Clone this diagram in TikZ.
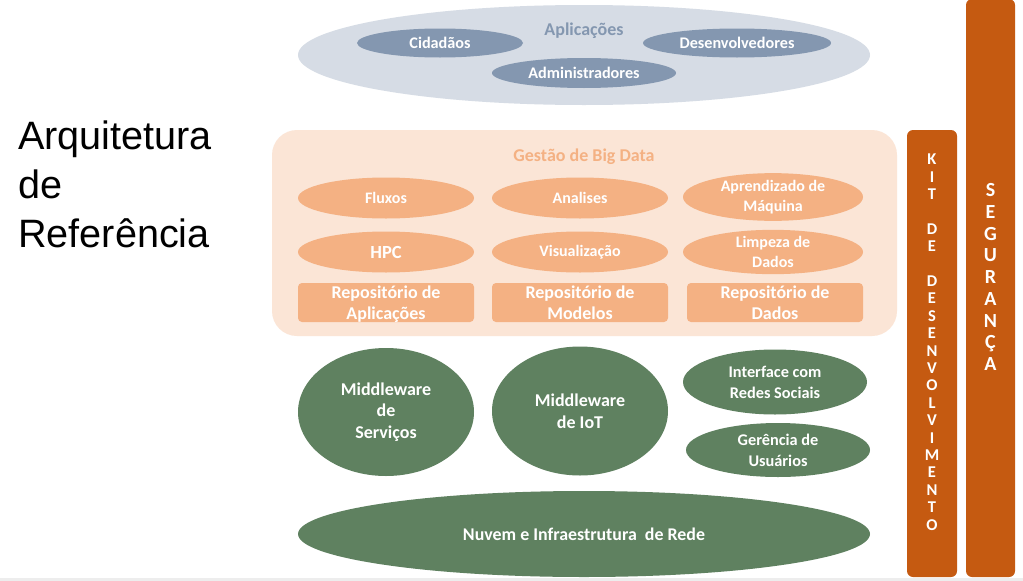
\documentclass[tikz,border=0pt]{standalone}
\usepackage{fontspec}
\setmainfont{Carlito}
\newfontfamily\arialf{Liberation Sans}
\usetikzlibrary{shapes.geometric}
\definecolor{appbg}{HTML}{D6DCE5}
\definecolor{appfg}{HTML}{8497B0}
\definecolor{bdbg}{HTML}{FBE5D6}
\definecolor{bdfg}{HTML}{F4B183}
\definecolor{grn}{HTML}{5F8160}
\definecolor{org}{HTML}{C55A11}
\newcommand\fsz[2]{\fontsize{#1}{#2}\selectfont}
\begin{document}
\begin{tikzpicture}[x=1pt,y=-1pt,
  ell/.style={ellipse, inner sep=0pt, draw=none, text=white, align=center},
  appell/.style={ell, fill=appfg, font=\bfseries\fsz{16.2}{18}},
  bdell/.style={ell, fill=bdfg, font=\bfseries\fsz{16}{20}},
  bdrect/.style={rectangle, rounded corners=4pt, inner sep=0pt, fill=bdfg, text=white, align=center,
     minimum width=176pt, minimum height=39pt, font=\bfseries\fsz{18}{21}},
  grell/.style={ell, fill=grn, font=\bfseries\fsz{18}{21.5}},
  grsmall/.style={ell, fill=grn, font=\bfseries\fsz{16.3}{21}},
  bar/.style={rectangle, rounded corners=6pt, inner sep=0pt, fill=org, draw=none},
  bartxt/.style={inner sep=0pt, text=white, align=center},
  title/.style={anchor=base west, inner sep=0pt, font=\arialf\fsz{39.6}{49}}
]
\useasboundingbox (0,0) rectangle (1023,581);
\fill[white] (0,0) rectangle (1023,581);
\fill[black!7] (0,578) rectangle (1023,581);

% title
\node[title] (t1) at (18,149) {Arquitetura};
\node[title] (t2) at (18,198) {de};
\node[title] (t3) at (18,247) {Referência};

% Aplicacoes
\node[ellipse, fill=appbg, minimum width=572pt, minimum height=100pt, inner sep=0pt] (app) at (584,55) {};
\node[text=appfg, font=\bfseries\fsz{18}{20}, inner sep=0pt] (apptitle) at (584,31) {Aplicações};
\node[appell, minimum width=166pt, minimum height=29pt] (cid) at (440,43) {Cidadãos};
\node[appell, minimum width=188pt, minimum height=29pt] (dev) at (737,43) {Desenvolvedores};
\node[appell, minimum width=184pt, minimum height=30pt] (adm) at (584,73) {Administradores};

% Big Data
\node[rectangle, rounded corners=25pt, fill=bdbg, minimum width=625pt, minimum height=206pt, inner sep=0pt] (bd) at (584.5,233) {};
\node[text=bdfg, font=\bfseries\fsz{18}{20}, inner sep=0pt] (bdtitle) at (584,157) {Gestão de Big Data};
\node[bdell, minimum width=176pt, minimum height=41pt] (flu) at (386,198) {Fluxos};
\node[bdell, minimum width=176pt, minimum height=41pt] (ana) at (580,198) {Analises};
\node[bdell, minimum width=180pt, minimum height=43pt] (apr) at (773,197) {Aprendizado de\\Máquina};
\node[bdell, minimum width=176pt, minimum height=41pt, font=\bfseries\fsz{18.5}{20}] (hpc) at (386,252) {HPC};
\node[bdell, minimum width=176pt, minimum height=41pt] (vis) at (580,252) {Visualização};
\node[bdell, minimum width=180pt, minimum height=43pt] (lim) at (773,252) {Limpeza de\\Dados};
\node[bdrect] (rapp) at (386,302.5) {Repositório de\\\raisebox{0pt}[\height][0pt]{Aplicações}};
\node[bdrect] (rmod) at (580,302.5) {Repositório de\\Modelos};
\node[bdrect] (rdad) at (775,302.5) {Repositório de\\Dados};

% Middleware
\node[grell, minimum width=176pt, minimum height=128pt] (ms) at (386,412) {Middleware\\de\\Serviços};
\node[grell, minimum width=176pt, minimum height=129pt] (mi) at (580,411) {Middleware\\de IoT};
\node[grsmall, minimum width=184pt, minimum height=65pt] (irs) at (775,382) {Interface com\\Redes Sociais};
\node[grsmall, minimum width=184pt, minimum height=54pt] (gu) at (778,450) {Gerência de\\Usuários};
\node[grell, minimum width=572pt, minimum height=86pt, font=\bfseries\fsz{17.9}{20}] (nuv) at (584,534) {Nuvem e Infraestrutura\ \ de Rede};

% bars
\node[bar, minimum width=50pt, minimum height=447pt] (kit) at (932,353.5) {};
\node[bartxt, font=\bfseries\fsz{16.5}{17.4}] (kittxt) at (932,342) {K\\I\\T\\~\\D\\E\\~\\D\\E\\S\\E\\N\\V\\O\\L\\V\\I\\M\\E\\N\\T\\O};
\node[bar, minimum width=49pt, minimum height=578pt] (seg) at (990.5,288) {};
\node[bartxt, font=\bfseries\fsz{20}{21.75}] (segtxt) at (990.5,277) {S\\E\\G\\U\\R\\A\\N\\Ç\\A};
\end{tikzpicture}
\end{document}
